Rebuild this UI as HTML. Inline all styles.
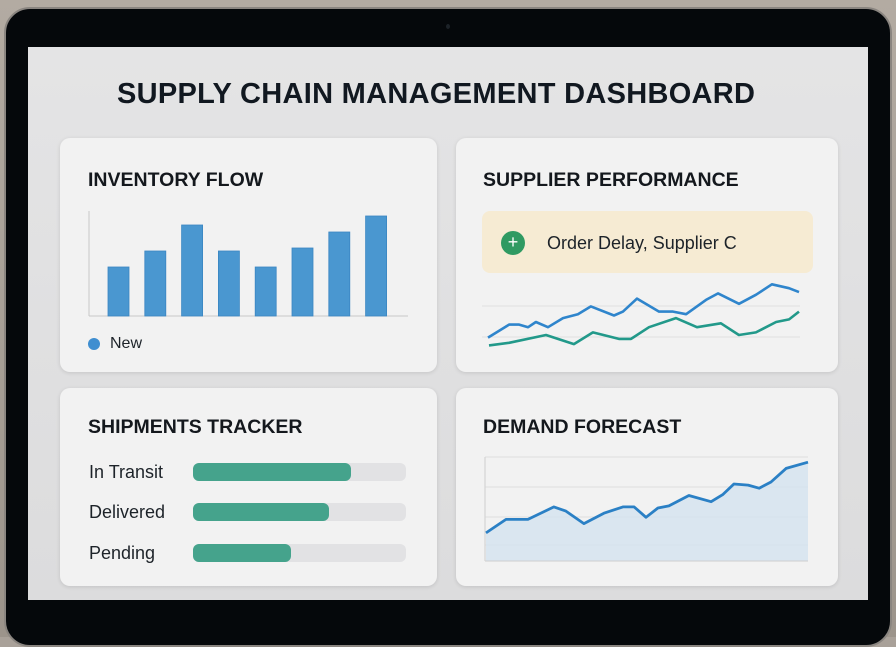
<!DOCTYPE html>
<html><head><meta charset="utf-8">
<style>
html,body{margin:0;padding:0;width:896px;height:637px;overflow:hidden;background:#a9a199;font-family:"Liberation Sans",sans-serif;}
.bg{position:absolute;left:0;top:0;width:896px;height:637px;background:linear-gradient(#b3aba2,#9c948b);}
.laptop{position:absolute;left:4px;top:7px;width:888px;height:640px;background:#05080b;border-radius:26px;border:2px solid #8a8580;box-sizing:border-box;}
.cam{position:absolute;left:446px;top:24px;width:4px;height:5px;border-radius:50%;background:#1c2228;}
.screen{position:absolute;left:28px;top:47px;width:840px;height:553px;background:linear-gradient(#e4e4e5,#dcdcdd);}
.title{position:absolute;left:117px;top:78px;font-size:29px;font-weight:bold;color:#111820;letter-spacing:0.3px;}
.card{position:absolute;background:#f2f2f2;border-radius:10px;box-shadow:0 1px 4px rgba(0,0,0,0.12);}
.ct{position:absolute;font-size:19.5px;font-weight:bold;color:#14181d;}
.lbl{position:absolute;font-size:18px;color:#1d2329;}
.track{position:absolute;left:193px;width:213px;height:18px;background:#e2e2e4;border-radius:6px;}
.fill{position:absolute;left:0;top:0;height:18px;background:#45a38c;border-radius:6px;}
svg{position:absolute;left:0;top:0;}
</style></head>
<body>
<div class="bg"></div>
<div class="laptop"></div>
<div class="cam"></div>
<div class="screen"></div>
<div class="title">SUPPLY CHAIN MANAGEMENT DASHBOARD</div>

<div class="card" style="left:60px;top:138px;width:377px;height:234px"></div>
<div class="card" style="left:456px;top:138px;width:382px;height:234px"></div>
<div class="card" style="left:60px;top:388px;width:377px;height:198px"></div>
<div class="card" style="left:456px;top:388px;width:382px;height:198px"></div>

<div class="ct" style="left:88px;top:169px">INVENTORY FLOW</div>
<div class="ct" style="left:483px;top:169px">SUPPLIER PERFORMANCE</div>
<div class="ct" style="left:88px;top:416px">SHIPMENTS TRACKER</div>
<div class="ct" style="left:483px;top:416px">DEMAND FORECAST</div>

<div style="position:absolute;left:482px;top:211px;width:331px;height:62px;background:#f6ebd3;border-radius:8px"></div>
<div style="position:absolute;left:501px;top:231px;width:24px;height:24px;border-radius:50%;background:#2f9a62;color:#fff;font-size:18px;line-height:23px;text-align:center">+</div>
<div class="lbl" style="left:547px;top:233px">Order Delay, Supplier C</div>

<div style="position:absolute;left:88px;top:338px;width:12px;height:12px;border-radius:50%;background:#3f8ed0"></div>
<div class="lbl" style="left:110px;top:335px;font-size:16px">New</div>

<div class="lbl" style="left:89px;top:462px">In Transit</div>
<div class="lbl" style="left:89px;top:502px">Delivered</div>
<div class="lbl" style="left:89px;top:543px">Pending</div>
<div id="ship"></div>

<svg id="chart" width="896" height="637"></svg>

<script>
const invValues=[49,65,91,65,49,68,84,100];
const shipLabels=["In Transit","Delivered","Pending"];
const shipValues=[74,64,46];
const supBlueT=[0,6.8,10,12.9,15.4,19.3,24.1,28.9,33.1,40.5,43.4,47.9,55,59.5,63.7,70.1,74,80.7,86.2,91.3,96.8,100];
const supBlue=[8,18,18,16,20,16,23,26,32,25,28,38,28,28,26,37,42,34,41,49,46,43];
const supGreenT=[0,6.5,18.4,27.4,33.5,41.9,45.8,51.6,60.3,67.1,74.8,80.6,86.1,92.6,96.8,100];
const supGreen=[2,4,10,3,12,7,7,16,23,16,19,10,12,20,22,28];
const demandT=[0,6.2,13,21.1,24.8,30.4,36.6,42.5,46,49.7,53.4,56.8,63,69.9,73.6,77,81.4,84.8,88.5,93.2,100];
const demand=[27,40,40,52,48,36,46,52,52,42,51,53,63,57,64,74,73,70,76,89,95];

const NS="http://www.w3.org/2000/svg";
const svg=document.getElementById('chart');
function mk(tag,attrs){const e=document.createElementNS(NS,tag);for(const k in attrs)e.setAttribute(k,attrs[k]);svg.appendChild(e);return e;}

// Inventory bars
const iy0=316,ih=100;
const iy=v=>iy0-v/100*ih;
const ixs=i=>108+i*36.8;
let ax=mk('line',{x1:89,y1:211,x2:89,y2:316,stroke:'#c8c8c8','stroke-width':1});


ax=mk('line',{x1:89,y1:316,x2:408,y2:316,stroke:'#c8c8c8','stroke-width':1});


invValues.forEach((v,i)=>{
  const r=mk('rect',{x:ixs(i),y:iy(v),width:21,height:iy0-iy(v),fill:'#4a97d0',stroke:'#3a86c2','stroke-width':0.8});
  
  
});

function pts(ts,vs,x0,x1,yf){return ts.map((t,i)=>[x0+t/100*(x1-x0),yf(vs[i])]);}
function ptsStr(p){return p.map(q=>q[0].toFixed(1)+','+q[1].toFixed(1)).join(' ');}

// Supplier lines
[306,337].forEach(y=>{const g=mk('line',{x1:482,y1:y,x2:800,y2:y,stroke:'#e0e0e0','stroke-width':1});

});
const sy=v=>348-v/50*65;
let pl=mk('polyline',{points:ptsStr(pts(supGreenT,supGreen,489,799,sy)),fill:'none',stroke:'#22998a','stroke-width':2.6,'stroke-linejoin':'round'});


pl=mk('polyline',{points:ptsStr(pts(supBlueT,supBlue,488,799,sy)),fill:'none',stroke:'#2f85cc','stroke-width':2.6,'stroke-linejoin':'round'});



// Demand
const dy=v=>561-v/100*104;
[457,487,517,545].forEach(y=>{const g=mk('line',{x1:485,y1:y,x2:808,y2:y,stroke:'#dedede','stroke-width':1});

});
const dp=pts(demandT,demand,486,808,dy);
let area=mk('polygon',{points:ptsStr(dp)+' 808,561 486,561',fill:'#d6e4f0',opacity:0.85});


ax=mk('line',{x1:485,y1:457,x2:485,y2:561,stroke:'#cfcfcf','stroke-width':1});


ax=mk('line',{x1:485,y1:561,x2:808,y2:561,stroke:'#cfcfcf','stroke-width':1});


pl=mk('polyline',{points:ptsStr(dp),fill:'none',stroke:'#2b80c5','stroke-width':2.8,'stroke-linejoin':'round'});



// Shipments
const ship=document.getElementById('ship');
const rowTops=[463,503,544];
shipValues.forEach((v,i)=>{
  const t=document.createElement('div');
  t.className='track';t.style.top=rowTops[i]+'px';
  
  
  const f=document.createElement('div');
  f.className='fill';f.style.width=(v/100*213)+'px';
  
  
  t.appendChild(f);ship.appendChild(t);
});
</script>
</body></html>
